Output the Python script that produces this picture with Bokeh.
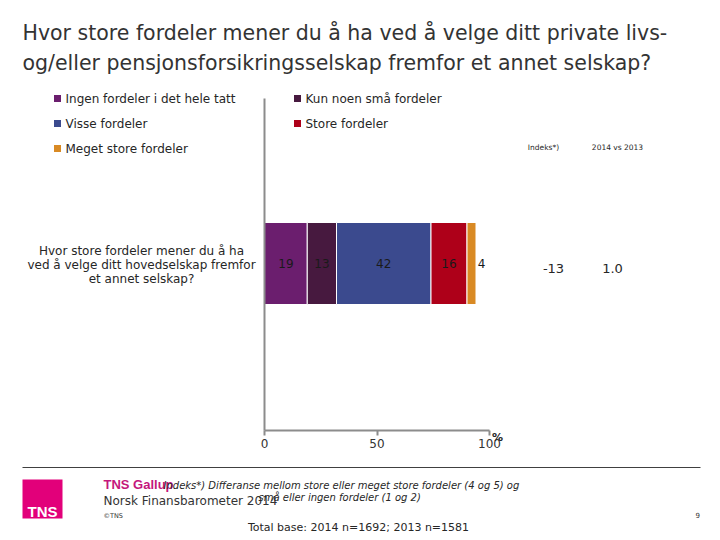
import numpy as np
from bokeh.plotting import figure
from bokeh.models import (Label, BoxAnnotation, Range1d, FixedTicker, ColumnDataSource,
                          LinearAxis)
from bokeh.core.properties import value
from bokeh.embed import file_html
from bokeh.resources import INLINE

# ---------------- data ----------------
title_lines = ["Hvor store fordeler mener du å ha ved å velge ditt private livs-",
               "og/eller pensjonsforsikringsselskap fremfor et annet selskap?"]
question_lines = ["Hvor store fordeler mener du å ha",
                  "ved å velge ditt hovedselskap fremfor",
                  "et annet selskap?"]
categories = ["Ingen fordeler i det hele tatt", "Kun noen små fordeler", "Visse fordeler",
              "Store fordeler", "Meget store fordeler"]
values = [19, 13, 42, 16, 4]
colors = ["#6B1E6E", "#47193F", "#3B4A8E", "#AE0019", "#D98A24"]
index_header = "Indeks*)"
change_header = "2014 vs 2013"
index_value = "-13"
change_value = "1.0"
x_ticks = [0, 50, 100]
footnote_lines = ["Indeks*) Differanse mellom store eller meget store fordeler (4 og 5) og",
                  "små eller ingen fordeler (1 og 2)"]
base_text = "Total base: 2014 n=1692; 2013 n=1581"

# ---------------- layout constants (page pixels) ----------------
W, H = 720, 540
AX_LEFT, AX_RIGHT = 264, 489      # x-pixels of 0 % and 100 %
AX_TOP, AX_BOTTOM = 98, 430       # vertical extent of the value axis frame
BAR_CY, BAR_H = 263, 82           # centre / thickness of the bar band
PX_PER_PCT = (AX_RIGHT - AX_LEFT) / 100.0

p = figure(width=W, height=H, output_backend="svg", toolbar_location=None,
           x_range=Range1d(0, W), y_range=Range1d(H, 0),
           x_axis_location=None, y_axis_location=None,
           min_border=0, min_border_left=0, min_border_right=0,
           min_border_top=0, min_border_bottom=0)
p.outline_line_color = None
p.xgrid.visible = False
p.ygrid.visible = False
p.background_fill_color = "white"
p.border_fill_color = "white"

# scale for percentages and for the category band
p.extra_x_ranges = {"pct": Range1d(-AX_LEFT / PX_PER_PCT, (W - AX_LEFT) / PX_PER_PCT)}
p.extra_y_ranges = {"band": Range1d((BAR_CY - H) / BAR_H, BAR_CY / BAR_H)}

ax = LinearAxis(x_range_name="pct", fixed_location=AX_BOTTOM, bounds=(0, 100),
                ticker=FixedTicker(ticks=x_ticks))
ax.minor_tick_line_color = None
ax.major_tick_out = 5
ax.major_tick_in = 0
ax.axis_line_color = "#8c8c8c"
ax.axis_line_width = 2
ax.major_tick_line_color = "#8c8c8c"
ax.major_tick_line_width = 2
ax.major_label_text_font = "DejaVu Sans"
ax.major_label_text_font_size = "12px"
ax.major_label_text_color = "#333333"
ax.major_label_standoff = 3
p.add_layout(ax, "below")

ay = LinearAxis(x_range_name="pct", fixed_location=0, bounds=(AX_TOP, AX_BOTTOM),
                ticker=FixedTicker(ticks=[]))
ay.major_label_text_font_size = "0px"
ay.major_tick_line_color = None
ay.minor_tick_line_color = None
ay.axis_line_color = "#8c8c8c"
ay.axis_line_width = 2
p.add_layout(ay, "left")

# bars
vals = np.array(values, dtype=float)
right = np.cumsum(vals)
left = right - vals
src = ColumnDataSource(dict(y=[0] * len(values), left=left, right=right,
                            mid=(left + right) / 2, color=colors,
                            label=[str(v) for v in values],
                            xoff=[0, 0, 0, 0, 10]))
p.hbar(y="y", left="left", right="right", height=1, fill_color="color",
       line_color="white", line_width=1, source=src,
       x_range_name="pct", y_range_name="band")
p.text(x="mid", y="y", text="label", x_offset="xoff", source=src, text_align="center",
       text_baseline="middle", text_font_size="12px", text_color="#1a1a1a",
       text_font=value("DejaVu Sans"), x_range_name="pct", y_range_name="band")


# ---------------- annotations (page coordinates) ----------------
def lab(x, y, text, size, color="#262626", font="DejaVu Sans", align="left",
        baseline="middle", style="normal"):
    p.add_layout(Label(x=x, y=y, text=text, text_font=font, text_font_size=f"{size}px",
                       text_color=color, text_align=align, text_baseline=baseline,
                       text_font_style=style))


def box(x0, y0, x1, y1, color):
    p.add_layout(BoxAnnotation(left=x0, right=x1, top=y0, bottom=y1,
                               fill_color=color, fill_alpha=1, line_color=None,
                               line_alpha=0))


# title
lab(22, 32, title_lines[0], 20.5, color="#333333")
lab(22, 62, title_lines[1], 20.5, color="#333333")

# legend
legend_pos = [(57, 98), (297, 98), (57, 123), (297, 123), (57, 148)]
for (lx, ly), c, name in zip(legend_pos, colors, categories):
    box(lx - 3.5, ly - 3.5, lx + 3.5, ly + 3.5, c)
    lab(lx + 8, ly, name, 12)

# column headers / values
lab(543, 147, index_header, 7.5, align="center")
lab(617, 147, change_header, 7.5, align="center")
lab(553, 268, index_value, 13, align="center")
lab(612, 268, change_value, 13, align="center")

# question label
for i, line in enumerate(question_lines):
    lab(141, 250 + 14 * i, line, 12, align="center")

# percent sign
lab(497, 437, "%", 11, style="bold", align="center")

# footer
box(22, 466.5, 700, 467.5, "#404040")
box(22, 479, 62, 518, "#E2007A")
lab(42, 511, "TNS", 15, color="white", font="Liberation Sans", style="bold", align="center")
lab(103, 484, "TNS Gallup", 13, color="#C4177C", font="Liberation Sans", style="bold")
lab(103, 500, "Norsk Finansbarometer 2014", 12, color="#333333")
lab(103, 515, "©TNS", 6.5, color="#333333")
lab(695, 514, "9", 7, color="#333333")
lab(163, 485, footnote_lines[0], 10, color="#262626", style="italic")
lab(258, 497, footnote_lines[1], 10, color="#262626", style="italic")
lab(358, 527, base_text, 11, color="#262626", align="center")

open("out.html", "w").write(file_html(p, INLINE))
